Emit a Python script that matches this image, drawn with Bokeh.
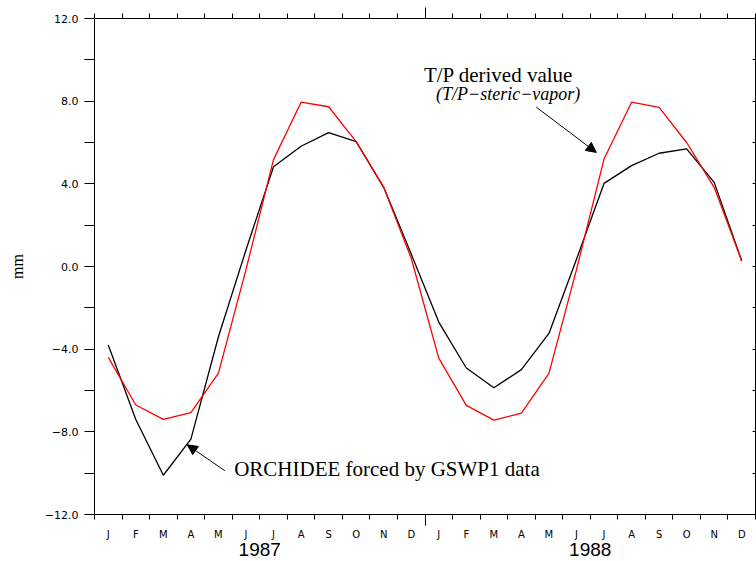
from bokeh.plotting import figure
from bokeh.models import Range1d, FixedTicker, LinearAxis, Arrow, NormalHead, ColumnDataSource
from bokeh.core.properties import value
from bokeh.embed import file_html
from bokeh.resources import INLINE

# ---- data ----
months = ["J", "F", "M", "A", "M", "J", "J", "A", "S", "O", "N", "D",
          "J", "F", "M", "A", "M", "J", "J", "A", "S", "O", "N", "D"]
years = ["1987", "1988"]
orchidee = [-3.8, -7.4, -10.1, -8.35, -3.4, 0.8, 4.83, 5.82, 6.48, 6.04, 3.83, 0.6,
            -2.69, -4.91, -5.87, -4.99, -3.24, 0.35, 4.02, 4.88, 5.48, 5.69, 4.07, 0.27]
tp_derived = [-4.4, -6.7, -7.4, -7.07, -5.16, -0.15, 5.17, 7.95, 7.73, 6.04, 3.83, 0.4,
              -4.43, -6.72, -7.43, -7.1, -5.17, -0.15, 5.2, 7.95, 7.7, 6.0, 3.83, 0.27]
ytick_vals = [-12, -8, -4, 0, 4, 8, 12]
ytick_labels = ["\u221212.0", "\u22128.0", "\u22124.0", "0.0", "4.0", "8.0", "12.0"]
yminor_vals = [-10, -6, -2, 2, 6, 10]

n = len(months)
xc = [i + 0.5 for i in range(n)]          # month centres
bounds = list(range(n + 1))                # month boundaries
year_centres = [6, 18]
year_break = [12]

src = ColumnDataSource(dict(x=xc, orch=orchidee, tp=tp_derived))

p = figure(width=756, height=561, x_range=Range1d(0, 24), y_range=Range1d(-12, 12),
           output_backend="svg", toolbar_location=None,
           x_axis_location=None, y_axis_location=None,
           min_border_left=94, min_border_right=1, min_border_top=18, min_border_bottom=47)
p.outline_line_color = None
p.background_fill_color = "white"
p.border_fill_color = "white"
p.xgrid.visible = False
p.ygrid.visible = False
for r in list(p.center):
    r.visible = False

# left axis
yl = LinearAxis(ticker=FixedTicker(ticks=ytick_vals, minor_ticks=yminor_vals),
                major_label_overrides=dict(zip(ytick_vals, ytick_labels)),
                axis_label="mm", axis_label_text_font="Liberation Serif",
                axis_label_text_font_size="16px", axis_label_text_font_style="normal",
                axis_label_text_color="black",
                axis_label_standoff=16,
                major_label_text_font="DejaVu Sans", major_label_text_font_size="11px",
                major_label_text_color="black",
                major_label_standoff=6,
                major_tick_out=10, major_tick_in=0, minor_tick_out=10, minor_tick_in=0,
                axis_line_color="black", major_tick_line_color="black", minor_tick_line_color="black")
p.add_layout(yl, "left")

# right axis
yr = LinearAxis(ticker=FixedTicker(ticks=ytick_vals, minor_ticks=yminor_vals),
                major_label_text_font_size="0px", major_label_text_alpha=0,
                major_label_standoff=0,
                major_tick_out=0, major_tick_in=3, minor_tick_out=0, minor_tick_in=3,
                axis_line_color="black")
p.add_layout(yr, "right")

# top axis
xt = LinearAxis(ticker=FixedTicker(ticks=year_break, minor_ticks=bounds),
                major_label_text_font_size="0px", major_label_text_alpha=0,
                major_label_standoff=0,
                major_tick_out=11, major_tick_in=0, minor_tick_out=5, minor_tick_in=0,
                axis_line_color="black")
p.add_layout(xt, "above")

# bottom: ticks
xa = LinearAxis(ticker=FixedTicker(ticks=year_break, minor_ticks=bounds),
                major_label_text_font_size="0px", major_label_text_alpha=0,
                major_label_standoff=0,
                major_tick_out=11, major_tick_in=0, minor_tick_out=5, minor_tick_in=0,
                axis_line_color="black")
p.add_layout(xa, "below")

# bottom: month letters
xb = LinearAxis(ticker=FixedTicker(ticks=xc, minor_ticks=[]),
                major_label_overrides=dict(zip(xc, months)),
                major_label_text_font="DejaVu Sans", major_label_text_font_size="10px",
                major_label_text_color="black",
                major_label_standoff=3,
                major_tick_out=0, major_tick_in=0, minor_tick_out=0, minor_tick_in=0,
                axis_line_color=None, major_tick_line_color=None, minor_tick_line_color=None)
p.add_layout(xb, "below")

# bottom: years
xy = LinearAxis(ticker=FixedTicker(ticks=year_centres, minor_ticks=[]),
                major_label_overrides=dict(zip(year_centres, years)),
                major_label_text_font="Liberation Sans", major_label_text_font_size="19px",
                major_label_text_color="black",
                major_label_standoff=0,
                major_tick_out=0, major_tick_in=0, minor_tick_out=0, minor_tick_in=0,
                axis_line_color=None, major_tick_line_color=None, minor_tick_line_color=None)
p.add_layout(xy, "below")

# data lines
p.line("x", "orch", source=src, line_color="black", line_width=1.3)
p.line("x", "tp", source=src, line_color="#ff0000", line_width=1.3)

# annotations
SERIF = value("Liberation Serif")
p.text(x=[11.96], y=[9.28], text=["T/P derived value"], text_font=SERIF,
       text_font_size="21px", text_baseline="alphabetic", text_align="left", text_color="black")
p.text(x=[12.4], y=[8.36], text=["(T/P\u2212steric\u2212vapor)"], text_font=SERIF,
       text_font_size="18px", text_font_style="italic", text_baseline="alphabetic",
       text_align="left", text_color="black")
p.text(x=[5.07], y=[-9.8], text=["ORCHIDEE forced by GSWP1 data"], text_font=SERIF,
       text_font_size="21px", text_baseline="alphabetic", text_align="left", text_color="black")

p.add_layout(Arrow(end=NormalHead(size=10, fill_color="black", line_color="black"),
                   x_start=16.04, y_start=7.71, x_end=18.22, y_end=5.52,
                   line_color="black", line_width=1))
p.add_layout(Arrow(end=NormalHead(size=10, fill_color="black", line_color="black"),
                   x_start=4.73, y_start=-9.88, x_end=3.37, y_end=-8.63,
                   line_color="black", line_width=1))

open("out.html", "w").write(file_html(p, INLINE))
